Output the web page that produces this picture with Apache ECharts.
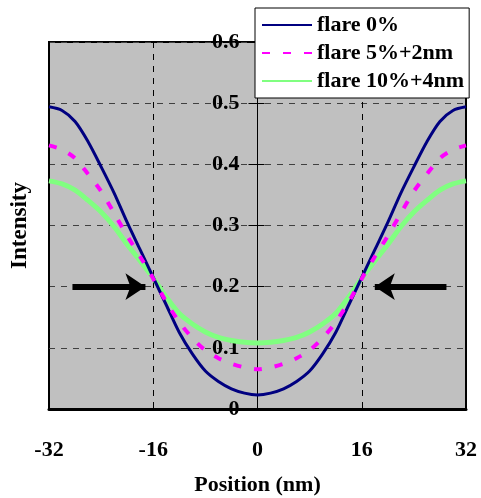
<!DOCTYPE html>
<html>
<head>
<meta charset="utf-8">
<script src="https://cdn.jsdelivr.net/npm/echarts@6/dist/echarts.min.js"></script>
<style>html,body{margin:0;padding:0;background:#fff}#c{width:481px;height:498px}</style>
</head>
<body>
<div id="c"></div>
<script>
var positions = [-32,-30,-28,-26,-24,-22,-20,-18,-16,-14,-12,-10,-8,-6,-4,-2,0,2,4,6,8,10,12,14,16,18,20,22,24,26,28,30,32];
var flare0 = [0.494,0.488,0.470,0.437,0.396,0.353,0.305,0.260,0.215,0.170,0.125,0.090,0.062,0.045,0.033,0.026,0.023,0.026,0.033,0.045,0.062,0.090,0.125,0.170,0.215,0.260,0.305,0.353,0.396,0.437,0.470,0.488,0.494];
var flare5 = [0.431,0.424,0.410,0.384,0.356,0.320,0.283,0.249,0.213,0.175,0.142,0.116,0.096,0.083,0.074,0.068,0.065,0.068,0.074,0.083,0.096,0.116,0.142,0.175,0.213,0.249,0.283,0.320,0.356,0.384,0.410,0.424,0.431];
var flare10 = [0.373,0.368,0.358,0.341,0.322,0.298,0.269,0.242,0.214,0.183,0.156,0.139,0.126,0.117,0.112,0.109,0.108,0.109,0.112,0.117,0.126,0.139,0.156,0.183,0.214,0.242,0.269,0.298,0.322,0.341,0.358,0.368,0.373];
var seriesNames = ['flare 0%','flare 5%+2nm','flare 10%+4nm'];
var xTicks = [-32,-16,0,16,32];
var arrowLeft = [[-28.4,0.2],[-17.2,0.2]];
var arrowRight = [[29.0,0.2],[18.0,0.2]];

function pairs(vals){ return positions.map(function(p,i){ return [p, vals[i]]; }); }
var FONT = '"Liberation Serif","Times New Roman",serif';
var GRID = {left:49,right:15,top:42,bottom:89};
var plotW = 481 - GRID.left - GRID.right;
var chart = echarts.init(document.getElementById('c'), null, {renderer:'canvas'});
chart.setOption({
  animation:false,
  backgroundColor:'#ffffff',
  grid:{left:GRID.left,right:GRID.right,top:GRID.top,bottom:GRID.bottom,containLabel:false,outerBoundsMode:'none',
    show:true,backgroundColor:'#c0c0c0',borderColor:'#000',borderWidth:2},
  legend:{
    orient:'vertical',left:255,top:8,
    backgroundColor:'#fff',borderColor:'#000',borderWidth:1,
    padding:[6,5,6,6],itemGap:6,itemWidth:50,itemHeight:14,
    itemStyle:{opacity:0},
    textStyle:{fontFamily:FONT,fontWeight:'bold',fontSize:22,color:'#000',lineHeight:22},
    data:seriesNames, z:10
  },
  xAxis:{
    type:'value',min:-32,max:32,interval:16,position:'bottom',
    name:'Position (nm)',nameLocation:'middle',nameGap:65,
    nameTextStyle:{fontFamily:FONT,fontWeight:'bold',fontSize:22,color:'#000'},
    axisLine:{show:true,onZero:false,lineStyle:{color:'#000',width:3}},
    axisTick:{show:false},
    axisLabel:{margin:30,fontFamily:FONT,fontWeight:'bold',fontSize:22,color:'#000',
      formatter:function(v){return xTicks.indexOf(v)>=0?String(v):'';}},
    splitLine:{show:true,lineStyle:{color:'#000',type:[6,6],width:1}}
  },
  yAxis:[{
    type:'value',min:0,max:0.6,interval:0.1,position:'left',offset:-plotW/2,
    axisLine:{show:true,onZero:false,lineStyle:{color:'#000',width:1}},
    axisTick:{show:true,length:9,lineStyle:{color:'#000'}},
    axisLabel:{margin:18,fontFamily:FONT,fontWeight:'bold',fontSize:22,color:'#000',
      formatter:function(v){return v===0?'0':v.toFixed(1);}},
    splitLine:{show:true,lineStyle:{color:'#404040',type:[6,6],width:1}}
  },{
    type:'value',min:0,max:0.6,interval:0.1,position:'left',offset:0,
    name:'Intensity',nameLocation:'middle',nameGap:17,
    nameTextStyle:{fontFamily:FONT,fontWeight:'bold',fontSize:23,color:'#000'},
    axisLine:{show:false,onZero:false},axisTick:{show:false},axisLabel:{show:false},splitLine:{show:false}
  },{
    type:'value',min:0,max:0.6,interval:0.1,position:'left',offset:-plotW/2,
    axisLine:{show:false,onZero:false},
    axisTick:{show:true,inside:true,length:7,lineStyle:{color:'#000'}},
    axisLabel:{show:false},splitLine:{show:false}
  }],
  series:[{
    name:seriesNames[0],type:'line',data:pairs(flare0),symbol:'none',smooth:0.3,z:3,
    lineStyle:{color:'#000080',width:3},itemStyle:{color:'#000080'},
    markLine:{silent:true,symbol:['none','arrow'],symbolSize:[20,20],label:{show:false},
      lineStyle:{color:'#000',width:6,type:'solid'},itemStyle:{color:'#000'},
      data:[[{coord:arrowLeft[0]},{coord:arrowLeft[1]}],[{coord:arrowRight[0]},{coord:arrowRight[1]}]]}
  },{
    name:seriesNames[1],type:'line',data:pairs(flare5),symbol:'none',smooth:0.3,z:4,
    lineStyle:{color:'#ff00ff',width:4,type:[8,13]},itemStyle:{color:'#ff00ff'}
  },{
    name:seriesNames[2],type:'line',data:pairs(flare10),symbol:'none',smooth:0.3,z:2,
    lineStyle:{color:'#80ff80',width:5},itemStyle:{color:'#80ff80'}
  }]
});
</script>
</body>
</html>
